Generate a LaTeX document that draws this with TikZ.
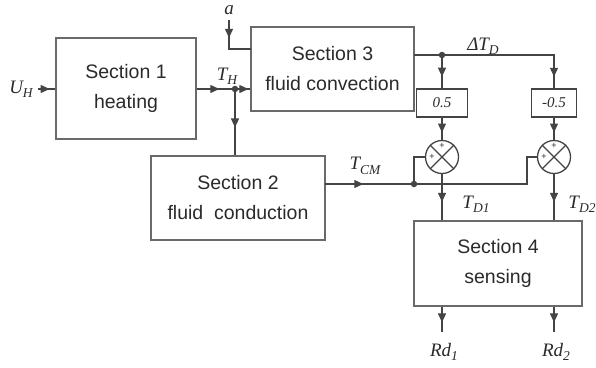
\documentclass[tikz,border=0pt]{standalone}
\usepackage{fontspec}
\setmainfont{Liberation Sans}
\newfontfamily\lblfont{Liberation Serif}
\usetikzlibrary{arrows.meta,decorations.markings}
\definecolor{wire}{HTML}{444444}
\definecolor{frame}{HTML}{6A6A6A}
\definecolor{ink}{HTML}{2A2A2A}
\newcommand{\sig}[2]{{\lblfont\itshape\fontsize{19}{19}\selectfont #1\raisebox{-0.5ex}{\fontsize{13.5}{13.5}\selectfont #2}}}

\begin{document}
\begin{tikzpicture}[x=1pt,y=-1pt,
	block/.style={draw=frame,line width=1.4pt,text=ink,align=center,font=\fontsize{19.5}{30}\selectfont},
	gain/.style={draw=wire,line width=1.2pt,minimum width=51,minimum height=28,text=ink,font=\lblfont\itshape\fontsize{15}{15}\selectfont},
	summer/.style={circle,draw=wire,line width=1.3pt,minimum size=33,inner sep=0pt},
	plus/.style={text=ink,inner sep=0pt,font=\fontsize{9}{9}\selectfont},
	sigline/.style={color=wire,line width=1.2pt},
	flow/.style={postaction={decorate},decoration={markings,mark=at position #1 with {\arrow{Triangle[length=9pt,width=8pt]}}}},
	dot/.style={circle,fill=wire,inner sep=0pt,minimum size=6.5pt},
	sym/.style={text=ink,inner sep=1pt}]
	\useasboundingbox (0,0) rectangle (596,367);
	
	\node[block,minimum width=140,minimum height=101] (sec1) at (126,88.5) {Section 1\\heating};
	\node[block,minimum width=163,minimum height=84] (sec3) at (332.5,69) {Section 3\\fluid convection};
	\node[block,minimum width=174,minimum height=84] (sec2) at (238,198) {Section 2\\fluid\ \ conduction};
	\node[block,minimum width=168,minimum height=85] (sec4) at (498,263.5) {Section 4\\sensing};
	
	\node[gain] (g1) at (442,103) {0.5};
	\node[gain,minimum width=45] (g2) at (554,103) {-0.5};
	
	\node[summer] (sum1) at (442,157) {};
	\node[summer] (sum2) at (554,157) {};
	\draw[sigline] (sum1.north west) -- (sum1.south east) (sum1.north east) -- (sum1.south west);
	\draw[sigline] (sum2.north west) -- (sum2.south east) (sum2.north east) -- (sum2.south west);
	\node[plus] (p1t) at ([yshift=11]sum1.center) {+};
	\node[plus] (p1l) at ([xshift=-10]sum1.center) {+};
	\node[plus] (p2t) at ([yshift=11]sum2.center) {+};
	\node[plus] (p2l) at ([xshift=-10]sum2.center) {+};
	
	\coordinate (uin) at (38,89);
	\node[dot] (jH) at (235,89) {};
	\coordinate (ain) at (229,20);
	\coordinate (abend) at (251,49);
	\coordinate (s3out) at (414,55);
	\node[dot] (jD) at (442,55) {};
	\coordinate (s2out) at (325,184);
	\node[dot] (jC) at (414,184) {};
	\coordinate (kC) at (527,184);
	\coordinate (rd1) at (442,332);
	\coordinate (rd2) at (554,332);
	
	\draw[sigline,flow=0.67] (uin) -- (uin -| sec1.west);
	\draw[sigline,flow=0.59] (jH.center -| sec1.east) -- (jH.center);
	\draw[sigline,flow=0.87] (jH.center) -- (jH.center -| sec3.west);
	\draw[sigline,flow=0.58] (jH.center) -- (jH.center |- sec2.north);
	\draw[sigline,flow=0.35] (ain) |- (abend);
	
	\draw[sigline] (s3out) -- (jD.center);
	\draw[sigline,flow=0.65] (jD.center) -- (g1.north);
	\draw[sigline,flow=0.92] (jD.center) -| (g2.north);
	\draw[sigline,flow=0.67] (g1) -- (sum1);
	\draw[sigline,flow=0.67] (g2) -- (sum2);
	
	\draw[sigline,flow=0.43] (s2out) -- (jC.center);
	\draw[sigline] (jC.center) |- (sum1.west);
	\draw[sigline] (jC.center) -- (kC) |- (sum2.west);
	
	\draw[sigline,flow=0.6] (sum1) -- (sum1 |- sec4.north);
	\draw[sigline,flow=0.6] (sum2) -- (sum2 |- sec4.north);
	\draw[sigline,flow=0.62] (sum1 |- sec4.south) -- (rd1);
	\draw[sigline,flow=0.62] (sum2 |- sec4.south) -- (rd2);
	
	\node[sym] (lUH) at (21,89) {\sig{U}{H}};
	\node[sym] (lTH) at (227,76) {\sig{T}{H}};
	\node[sym] (la) at (229,12) {\sig{a}{}};
	\node[sym] (lDT) at (483,46) {\sig{ΔT}{D}};
	\node[sym] (lTCM) at (365,166) {\sig{T}{CM}};
	\node[sym] (lTD1) at (476,204) {\sig{T}{D1}};
	\node[sym] (lTD2) at (582,204) {\sig{T}{D2}};
	\node[sym] (lRd1) at (444,352) {\sig{Rd}{1}};
	\node[sym] (lRd2) at (556,352) {\sig{Rd}{2}};
\end{tikzpicture}
\end{document}
